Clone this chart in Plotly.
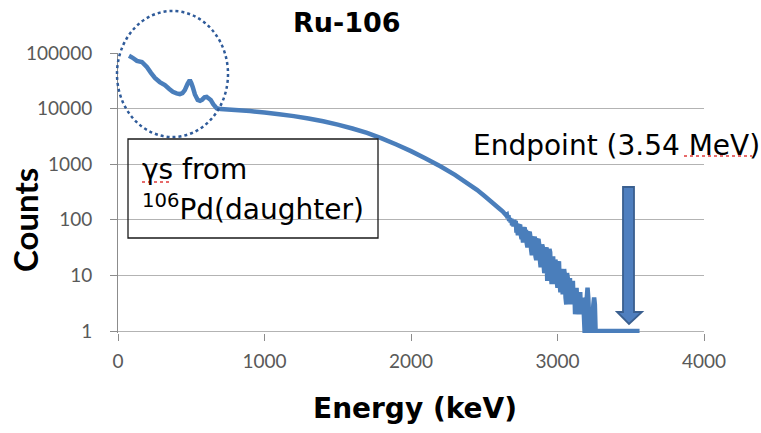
import plotly.graph_objects as go

# ---- data ----
gamma_energy = [75, 100, 129, 163, 197, 225, 252, 285, 320, 350, 374, 400, 422, 440, 456,
                475, 490, 500, 510, 525, 544, 560, 575, 590, 605, 620, 633, 650, 673]
gamma_counts = [89000, 82000, 72000, 69000, 56000, 44000, 35600, 30000, 26500, 22500, 20000,
                18800, 18200, 19000, 21500, 28000, 32600, 29000, 24500, 18000, 14300, 13800,
                14500, 16000, 16200, 15200, 14300, 12000, 10200]

continuum_energy = [700, 800, 900, 1000, 1100, 1200, 1300, 1400, 1500, 1600, 1700, 1800, 1900,
                    2000, 2100, 2200, 2300, 2400, 2450, 2500, 2550, 2600, 2625, 2650]
continuum_counts = [9800, 9440, 9020, 8510, 7940, 7330, 6640, 5920, 5150, 4390, 3650, 2920, 2260,
                    1720, 1270, 920, 643, 427, 347, 270, 210, 162, 142, 120]

tail_energy = [2655, 2660, 2665, 2670, 2675, 2680, 2685, 2690, 2695, 2700,
               2705, 2710, 2715, 2720, 2725, 2730, 2735, 2740, 2745, 2750,
               2755, 2760, 2765, 2770, 2775, 2780, 2785, 2790, 2795, 2800,
               2805, 2810, 2815, 2820, 2825, 2830, 2835, 2840, 2845, 2850,
               2855, 2860, 2865, 2870, 2875, 2880, 2885, 2890, 2895, 2900,
               2905, 2910, 2915, 2920, 2925, 2930, 2935, 2940, 2945, 2950,
               2955, 2960, 2965, 2970, 2975, 2980, 2985, 2990, 2995, 3000,
               3005, 3010, 3015, 3020, 3025, 3030, 3035, 3040, 3045, 3050,
               3055, 3060, 3065, 3070, 3075, 3080, 3085, 3090, 3095, 3100,
               3105, 3110, 3115, 3120, 3125, 3130, 3135, 3140, 3145, 3150,
               3155, 3160, 3165, 3170, 3175, 3180, 3185, 3190, 3195, 3200,
               3205, 3210, 3215, 3220, 3225, 3230, 3235, 3240, 3245, 3250,
               3255, 3260, 3270, 3400, 3560]
tail_counts = [123, 106, 121, 95, 107, 90, 105, 80, 88, 77,
               100, 84, 96, 59, 65, 53, 74, 79, 82, 53,
               45, 52, 39, 68, 73, 61, 66, 38, 32, 38,
               57, 61, 49, 29, 23, 30, 49, 44, 50, 22,
               19, 26, 43, 45, 36, 19, 14, 23, 36, 32,
               16, 11, 14, 29, 32, 8, 13, 23, 30, 26,
               10, 7, 19, 22, 12, 7, 19, 17, 8, 6,
               16, 18, 7, 5, 13, 11, 5, 5, 13, 10,
               4, 3, 11, 9, 4, 4, 9, 3, 7, 3,
               8, 3, 6, 2, 4, 6, 3, 2, 5, 2,
               5, 2, 4, 2, 4, 2, 1, 1, 3, 4,
               6, 4, 2, 1, 1, 1, 1, 2, 3, 4,
               3, 1, 1, 1, 1]

energy = gamma_energy + continuum_energy + tail_energy
counts = gamma_counts + continuum_counts + tail_counts

x_ticks = [0, 1000, 2000, 3000, 4000]
y_ticks = [1, 10, 100, 1000, 10000, 100000]
y_tick_labels = ["1", "10", "100", "1000", "10000", "100000"]

# ---- layout geometry (pixels) ----
L, T, W, H = 118, 53, 586, 280
FIG_W, FIG_H = 761, 433


def px(x):
    return (x - L) / W


def py(y):
    return (T + H - y) / H


LINE = "#4a7ebb"
GRID = "#b3b3b3"
AXIS = "#8c8c8c"
TICKFONT = dict(family="Lato", size=19, color="#595959")
TEXTFONT = dict(family="DejaVu Sans", size=28, color="black")

fig = go.Figure()
fig.add_trace(go.Scatter(x=energy, y=counts, mode="lines",
                         line=dict(color=LINE, width=4.5, simplify=False), showlegend=False,
                         hoverinfo="skip"))

fig.update_layout(
    width=FIG_W, height=FIG_H,
    margin=dict(l=L, r=FIG_W - L - W, t=T, b=FIG_H - T - H, pad=0),
    paper_bgcolor="white", plot_bgcolor="white",
    xaxis=dict(range=[0, 4000], tickvals=x_ticks, ticks="outside", ticklen=7,
               tickcolor=AXIS, tickwidth=1, showgrid=False, showline=False,
               zeroline=False, tickfont=TICKFONT, ticklabelstandoff=4),
    yaxis=dict(type="log", range=[-0.035, 5], tickvals=y_ticks, ticktext=y_tick_labels,
               ticks="outside", ticklen=7, tickcolor=AXIS, tickwidth=1,
               showgrid=True, gridcolor=GRID, gridwidth=1,
               showline=True, linecolor=AXIS, linewidth=1, zeroline=False,
               tickfont=TICKFONT, ticklabelstandoff=14),
)

shapes = []
# dotted ellipse around gamma peaks
shapes.append(dict(type="circle", xref="paper", yref="paper",
                   x0=px(117), x1=px(228), y0=py(137), y1=py(11),
                   line=dict(color="#2f5b9a", width=2.5, dash="dot")))
# text box
shapes.append(dict(type="rect", xref="paper", yref="paper",
                   x0=px(128), x1=px(378), y0=py(238), y1=py(139),
                   line=dict(color="#1a1a1a", width=1.3)))
# endpoint arrow
pts = [(623, 187), (634, 187), (634, 312), (642, 312), (629, 324), (617, 312), (623, 312)]
path = "M " + " L ".join(f"{px(a):.5f},{py(b):.5f}" for a, b in pts) + " Z"
shapes.append(dict(type="path", xref="paper", yref="paper", path=path,
                   fillcolor="#4f7fbf", line=dict(color="#3a5f8f", width=1.8)))
# spell-check squiggles
for (a, b, yy) in [(142, 172, 182), (684, 752, 156)]:
    shapes.append(dict(type="line", xref="paper", yref="paper",
                       x0=px(a), x1=px(b), y0=py(yy), y1=py(yy),
                       line=dict(color="#e03a3a", width=1.5, dash="dot")))
fig.update_layout(shapes=shapes)

ann = [
    dict(text="<b>Ru-106</b>", x=px(347), y=py(23), xref="paper", yref="paper",
         showarrow=False, font=dict(family="DejaVu Sans", size=27, color="black"),
         xanchor="center", yanchor="middle"),
    dict(text="<b>Counts</b>", x=px(25), y=py(220), xref="paper", yref="paper",
         showarrow=False, textangle=-90, font=dict(family="Lato", size=33, color="black"),
         xanchor="center", yanchor="middle"),
    dict(text="<b>Energy (keV)</b>", x=px(415), y=py(408), xref="paper", yref="paper",
         showarrow=False, font=dict(family="DejaVu Sans", size=28, color="black"),
         xanchor="center", yanchor="middle"),
    dict(text="Endpoint (3.54 MeV)", x=px(616), y=py(145), xref="paper", yref="paper",
         showarrow=False, font=TEXTFONT, xanchor="center", yanchor="middle"),
    dict(text="γs from", x=px(140), y=py(169), xref="paper",
         yref="paper", showarrow=False, align="left", font=TEXTFONT,
         xanchor="left", yanchor="middle"),
    dict(text="<sup>106</sup>Pd(daughter)", x=px(140), y=py(207), xref="paper",
         yref="paper", showarrow=False, align="left", font=TEXTFONT,
         xanchor="left", yanchor="middle"),
]
fig.update_layout(annotations=ann)

fig.write_html("out.html")
